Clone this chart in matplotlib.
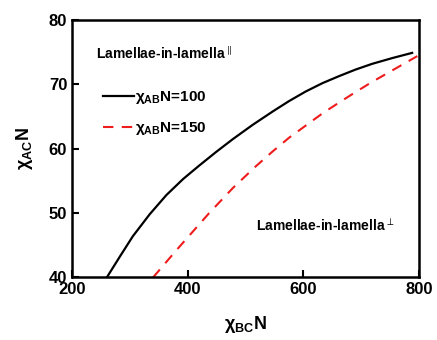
import matplotlib
matplotlib.use('Agg')
import matplotlib.pyplot as plt

plt.rcParams['font.family'] = ['Liberation Sans', 'DejaVu Sans']
plt.rcParams['mathtext.fontset'] = 'custom'
plt.rcParams['mathtext.rm'] = 'Liberation Sans'
plt.rcParams['mathtext.bf'] = 'Liberation Sans:bold'

# chi_AB N = 100
x100 = [260, 283, 305, 334, 363, 392, 420, 449, 478, 512, 547, 575, 604, 633, 662, 690, 719, 754, 788]
y100 = [40, 43.3, 46.4, 49.8, 52.8, 55.3, 57.4, 59.5, 61.5, 63.7, 65.8, 67.4, 68.9, 70.2, 71.3, 72.3, 73.2, 74.1, 74.9]
# chi_AB N = 150
x150 = [340, 380, 437, 478, 518, 547, 575, 604, 633, 662, 690, 719, 758, 797]
y150 = [40, 44.2, 50.0, 53.9, 57.3, 59.6, 61.7, 63.6, 65.5, 67.2, 68.8, 70.4, 72.4, 74.4]

labels = ['χ$_\\mathregular{AB}$N=100', 'χ$_\\mathregular{AB}$N=150']
xticks = [200, 400, 600, 800]
yticks = [40, 50, 60, 70, 80]

fig = plt.figure(figsize=(4.37, 3.4), dpi=100)
ax = fig.add_axes([0.165, 0.184, 0.794, 0.757])

ax.plot(x100, y100, color='black', lw=1.6, label=labels[0])
ax.plot(x150, y150, color='#ee1c1c', lw=1.5, dashes=(5, 4), label=labels[1])

ax.set_xlim(200, 800)
ax.set_ylim(40, 80)
ax.set_xticks(xticks)
ax.set_yticks(yticks)
ax.tick_params(direction='in', length=5, width=1.5, labelsize=12)
for tl in ax.get_xticklabels() + ax.get_yticklabels():
  tl.set_fontweight('bold')
for s in ax.spines.values():
  s.set_linewidth(1.8)

ax.set_xlabel('χ$_\\mathregular{BC}$N', fontsize=13, fontweight='bold', labelpad=12)
ax.set_ylabel('χ$_\\mathregular{AC}$N', fontsize=13, fontweight='bold', labelpad=10)

ax.text(0.07, 0.87, 'Lamellae-in-lamella$^{\\parallel}$', transform=ax.transAxes,
  fontsize=10, fontweight='bold', va='center')
ax.text(0.53, 0.2, 'Lamellae-in-lamella$^{\\perp}$', transform=ax.transAxes,
  fontsize=10, fontweight='bold', va='center')

leg = ax.legend(loc='upper left', bbox_to_anchor=(0.05, 0.785), frameon=False,
  prop={'weight': 'bold', 'size': 11}, handlelength=2.0, handletextpad=0.1,
  labelspacing=0.9)

fig.savefig('out.png', dpi=100)
